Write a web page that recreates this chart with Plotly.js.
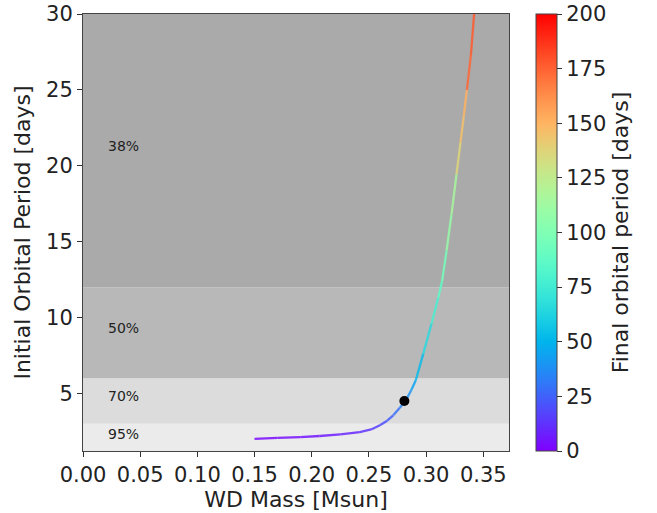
<!DOCTYPE html>
<html>
<head>
<meta charset="utf-8">
<script src="https://cdn.plot.ly/plotly-3.0.1.min.js"></script>
<style>html,body{margin:0;padding:0;background:#fff;}#chart{width:657px;height:513px;}</style>
</head>
<body>
<div id="chart"></div>
<script>
// Track data
const wdMass        = [0.150, 0.170, 0.190, 0.207, 0.225, 0.242, 0.252, 0.2596, 0.2660, 0.2713, 0.2770, 0.2820, 0.2870, 0.2910, 0.2975, 0.3048, 0.3106, 0.3140, 0.3179, 0.3222, 0.3266, 0.3300, 0.3330, 0.3355, 0.3357, 0.3392, 0.3420];
const initialPeriod = [2.00, 2.06, 2.12, 2.19, 2.30, 2.45, 2.62, 2.90, 3.20, 3.55, 4.05, 4.49, 5.20, 5.86, 7.60, 9.60, 11.3, 12.4, 14.4, 16.8, 19.45, 21.5, 23.3, 24.9, 25.0, 27.3, 30.0];
const finalPeriod   = [2, 3, 4, 6, 8, 11, 14, 18, 22, 26, 32, 37, 42, 47, 58, 72, 84, 90, 102, 116, 132, 142, 149, 152, 172, 175, 178];

// Highlighted system
const starMass = [0.281];
const starPeriod = [4.5];

// Probability bands
const bandLower  = [0, 3, 6, 12];
const bandUpper  = [3, 6, 12, 40];
const bandLabels = ['95%', '70%', '50%', '38%'];
const labelX     = [0.02, 0.02, 0.02, 0.02];
const labelY     = [2.3, 4.8, 9.3, 21.3];
const bandColors = ['#ebebeb', '#dcdcdc', '#b8b8b8', '#aaaaaa'];

const cMin = 0, cMax = 200;
const xTicks = [0, 0.05, 0.10, 0.15, 0.20, 0.25, 0.30, 0.35];
const yTicks = [5, 10, 15, 20, 25, 30];
const cTicks = [0, 25, 50, 75, 100, 125, 150, 175, 200];

// matplotlib 'rainbow' colormap
function rainbow(t) {
  const c = v => Math.max(0, Math.min(1, v));
  const r = c(Math.abs(2 * t - 0.5));
  const g = c(Math.sin(Math.PI * t));
  const b = c(Math.cos(Math.PI * t / 2));
  return 'rgb(' + Math.round(r * 255) + ',' + Math.round(g * 255) + ',' + Math.round(b * 255) + ')';
}
const colorscale = [];
for (let i = 0; i <= 20; i++) colorscale.push([i / 20, rainbow(i / 20)]);

const font = 'DejaVu Sans, sans-serif';
const traces = [];

// Line segments colored by final period
for (let i = 0; i < wdMass.length - 1; i++) {
  const jump = Math.abs(finalPeriod[i + 1] - finalPeriod[i]) > 15;
  const v = jump ? finalPeriod[i] : (finalPeriod[i] + finalPeriod[i + 1]) / 2;
  traces.push({
    x: [wdMass[i], wdMass[i + 1]],
    y: [initialPeriod[i], initialPeriod[i + 1]],
    mode: 'lines', type: 'scatter',
    line: {color: rainbow((v - cMin) / (cMax - cMin)), width: 2.3},
    opacity: 0.85,
    hoverinfo: 'skip', showlegend: false
  });
}

// Marker trace carrying the colorbar
traces.push({
  x: wdMass, y: initialPeriod, mode: 'markers', type: 'scatter',
  marker: {
    size: 1, opacity: 0, color: finalPeriod, colorscale: colorscale, cmin: cMin, cmax: cMax,
    showscale: true,
    colorbar: {
      x: 1.0634, xanchor: 'left', xref: 'paper', xpad: 0, ypad: 0,
      y: 0.5, yanchor: 'middle',
      len: 1, lenmode: 'fraction', thickness: 21,
      outlinewidth: 1, outlinecolor: '#444',
      tickvals: cTicks, ticks: 'outside', ticklen: 5, tickcolor: '#333',
      tickfont: {family: font, size: 21, color: '#222'},
      title: {text: 'Final orbital period [days]', side: 'right', font: {family: font, size: 22, color: '#222'}}
    }
  },
  hoverinfo: 'skip', showlegend: false
});

// Black dot
traces.push({
  x: starMass, y: starPeriod, mode: 'markers', type: 'scatter',
  marker: {size: 10, color: 'black'}, showlegend: false
});

const shapes = bandLower.map((lo, i) => ({
  type: 'rect', xref: 'paper', yref: 'y', x0: 0, x1: 1, y0: lo, y1: bandUpper[i],
  fillcolor: bandColors[i], line: {width: 0}, layer: 'below'
}));

const annotations = bandLabels.map((t, i) => ({
  x: labelX[i], y: labelY[i], xref: 'x', yref: 'y', text: t, showarrow: false,
  xanchor: 'left', yanchor: 'middle', font: {family: font, size: 14, color: '#222'}
}));

const layout = {
  width: 657, height: 513,
  margin: {l: 83, r: 148, t: 14, b: 62},
  paper_bgcolor: '#fff', plot_bgcolor: '#fff',
  showlegend: false,
  shapes: shapes, annotations: annotations,
  xaxis: {
    range: [0, 0.3725], tickvals: xTicks, tickformat: '.2f',
    showgrid: false, zeroline: false,
    showline: true, mirror: true, linecolor: '#444', linewidth: 1,
    ticks: 'outside', ticklen: 5, tickcolor: '#333',
    tickfont: {family: font, size: 21, color: '#222'},
    title: {text: 'WD Mass [Msun]', font: {family: font, size: 22, color: '#222'}, standoff: 1}
  },
  yaxis: {
    range: [1.2, 30], tickvals: yTicks,
    showgrid: false, zeroline: false,
    showline: true, mirror: true, linecolor: '#444', linewidth: 1,
    ticks: 'outside', ticklen: 5, tickcolor: '#333',
    tickfont: {family: font, size: 21, color: '#222'},
    title: {text: 'Initial Orbital Period [days]', font: {family: font, size: 22, color: '#222'}, standoff: 9}
  }
};

Plotly.newPlot('chart', traces, layout, {displayModeBar: false, staticPlot: true});
</script>
</body>
</html>
